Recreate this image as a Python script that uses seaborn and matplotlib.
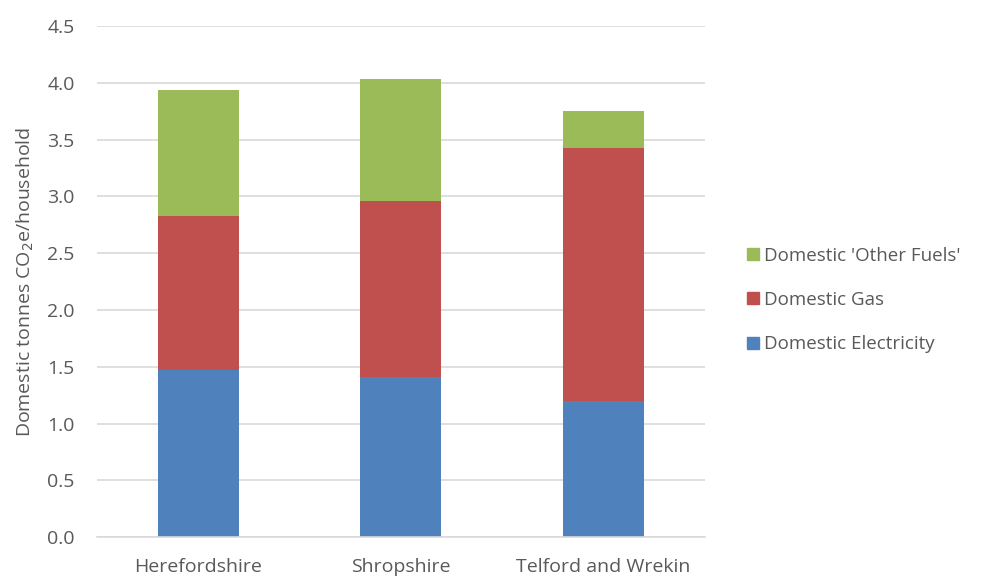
import matplotlib
matplotlib.use("Agg")
import matplotlib.pyplot as plt
import matplotlib.patches as mpatches
import numpy as np
import seaborn as sns

areas = ["Herefordshire", "Shropshire", "Telford and Wrekin"]
electricity = [1.47, 1.41, 1.20]
gas = [1.36, 1.55, 2.23]
other_fuels = [1.11, 1.07, 0.32]

series_names = ["Domestic Electricity", "Domestic Gas", "Domestic 'Other Fuels'"]
colors = ["#4F81BD", "#C0504D", "#9BBB59"]

sns.set_style("white")
plt.rcParams["font.family"] = ["Open Sans", "DejaVu Sans"]

fig = plt.figure(figsize=(9.87, 5.77), dpi=100)
ax = fig.add_axes([0.098, 0.069, 0.616, 0.886])

# stack by drawing cumulative totals, tallest first
elec = np.array(electricity)
cum = [elec, elec + np.array(gas), elec + np.array(gas) + np.array(other_fuels)]
for total, col in zip(cum[::-1], colors[::-1]):
    sns.barplot(x=areas, y=total, color=col, width=0.4, ax=ax,
                saturation=1, edgecolor="none", zorder=2)

ax.set_ylim(0, 4.5)
ax.set_xlim(-0.5, 2.5)
ax.set_yticks(np.arange(0, 4.51, 0.5))
ax.set_yticklabels([f"{v:.1f}" for v in np.arange(0, 4.51, 0.5)])
ax.yaxis.grid(True, color="#D9D9D9", linewidth=1.2, zorder=0)
ax.set_axisbelow(True)
for s in ["top", "right", "left"]:
    ax.spines[s].set_visible(False)
ax.spines["bottom"].set_color("#D9D9D9")
ax.spines["bottom"].set_linewidth(1.2)
ax.tick_params(axis="both", length=0, colors="#595959", labelsize=14)
ax.tick_params(axis="x", pad=15)
ax.tick_params(axis="y", pad=16)
ax.set_ylabel("Domestic tonnes CO$_2$e/household", color="#595959", fontsize=14, labelpad=8)

handles = [mpatches.Patch(color=c, label=n) for n, c in zip(series_names, colors)][::-1]
fig.legend(handles=handles, loc="center left", bbox_to_anchor=(0.740, 0.48),
           frameon=False, fontsize=13.5, labelcolor="#595959",
           handlelength=0.6, handleheight=0.6, handletextpad=0.3, labelspacing=1.4)

plt.savefig("out.png", dpi=100)
plt.close()
